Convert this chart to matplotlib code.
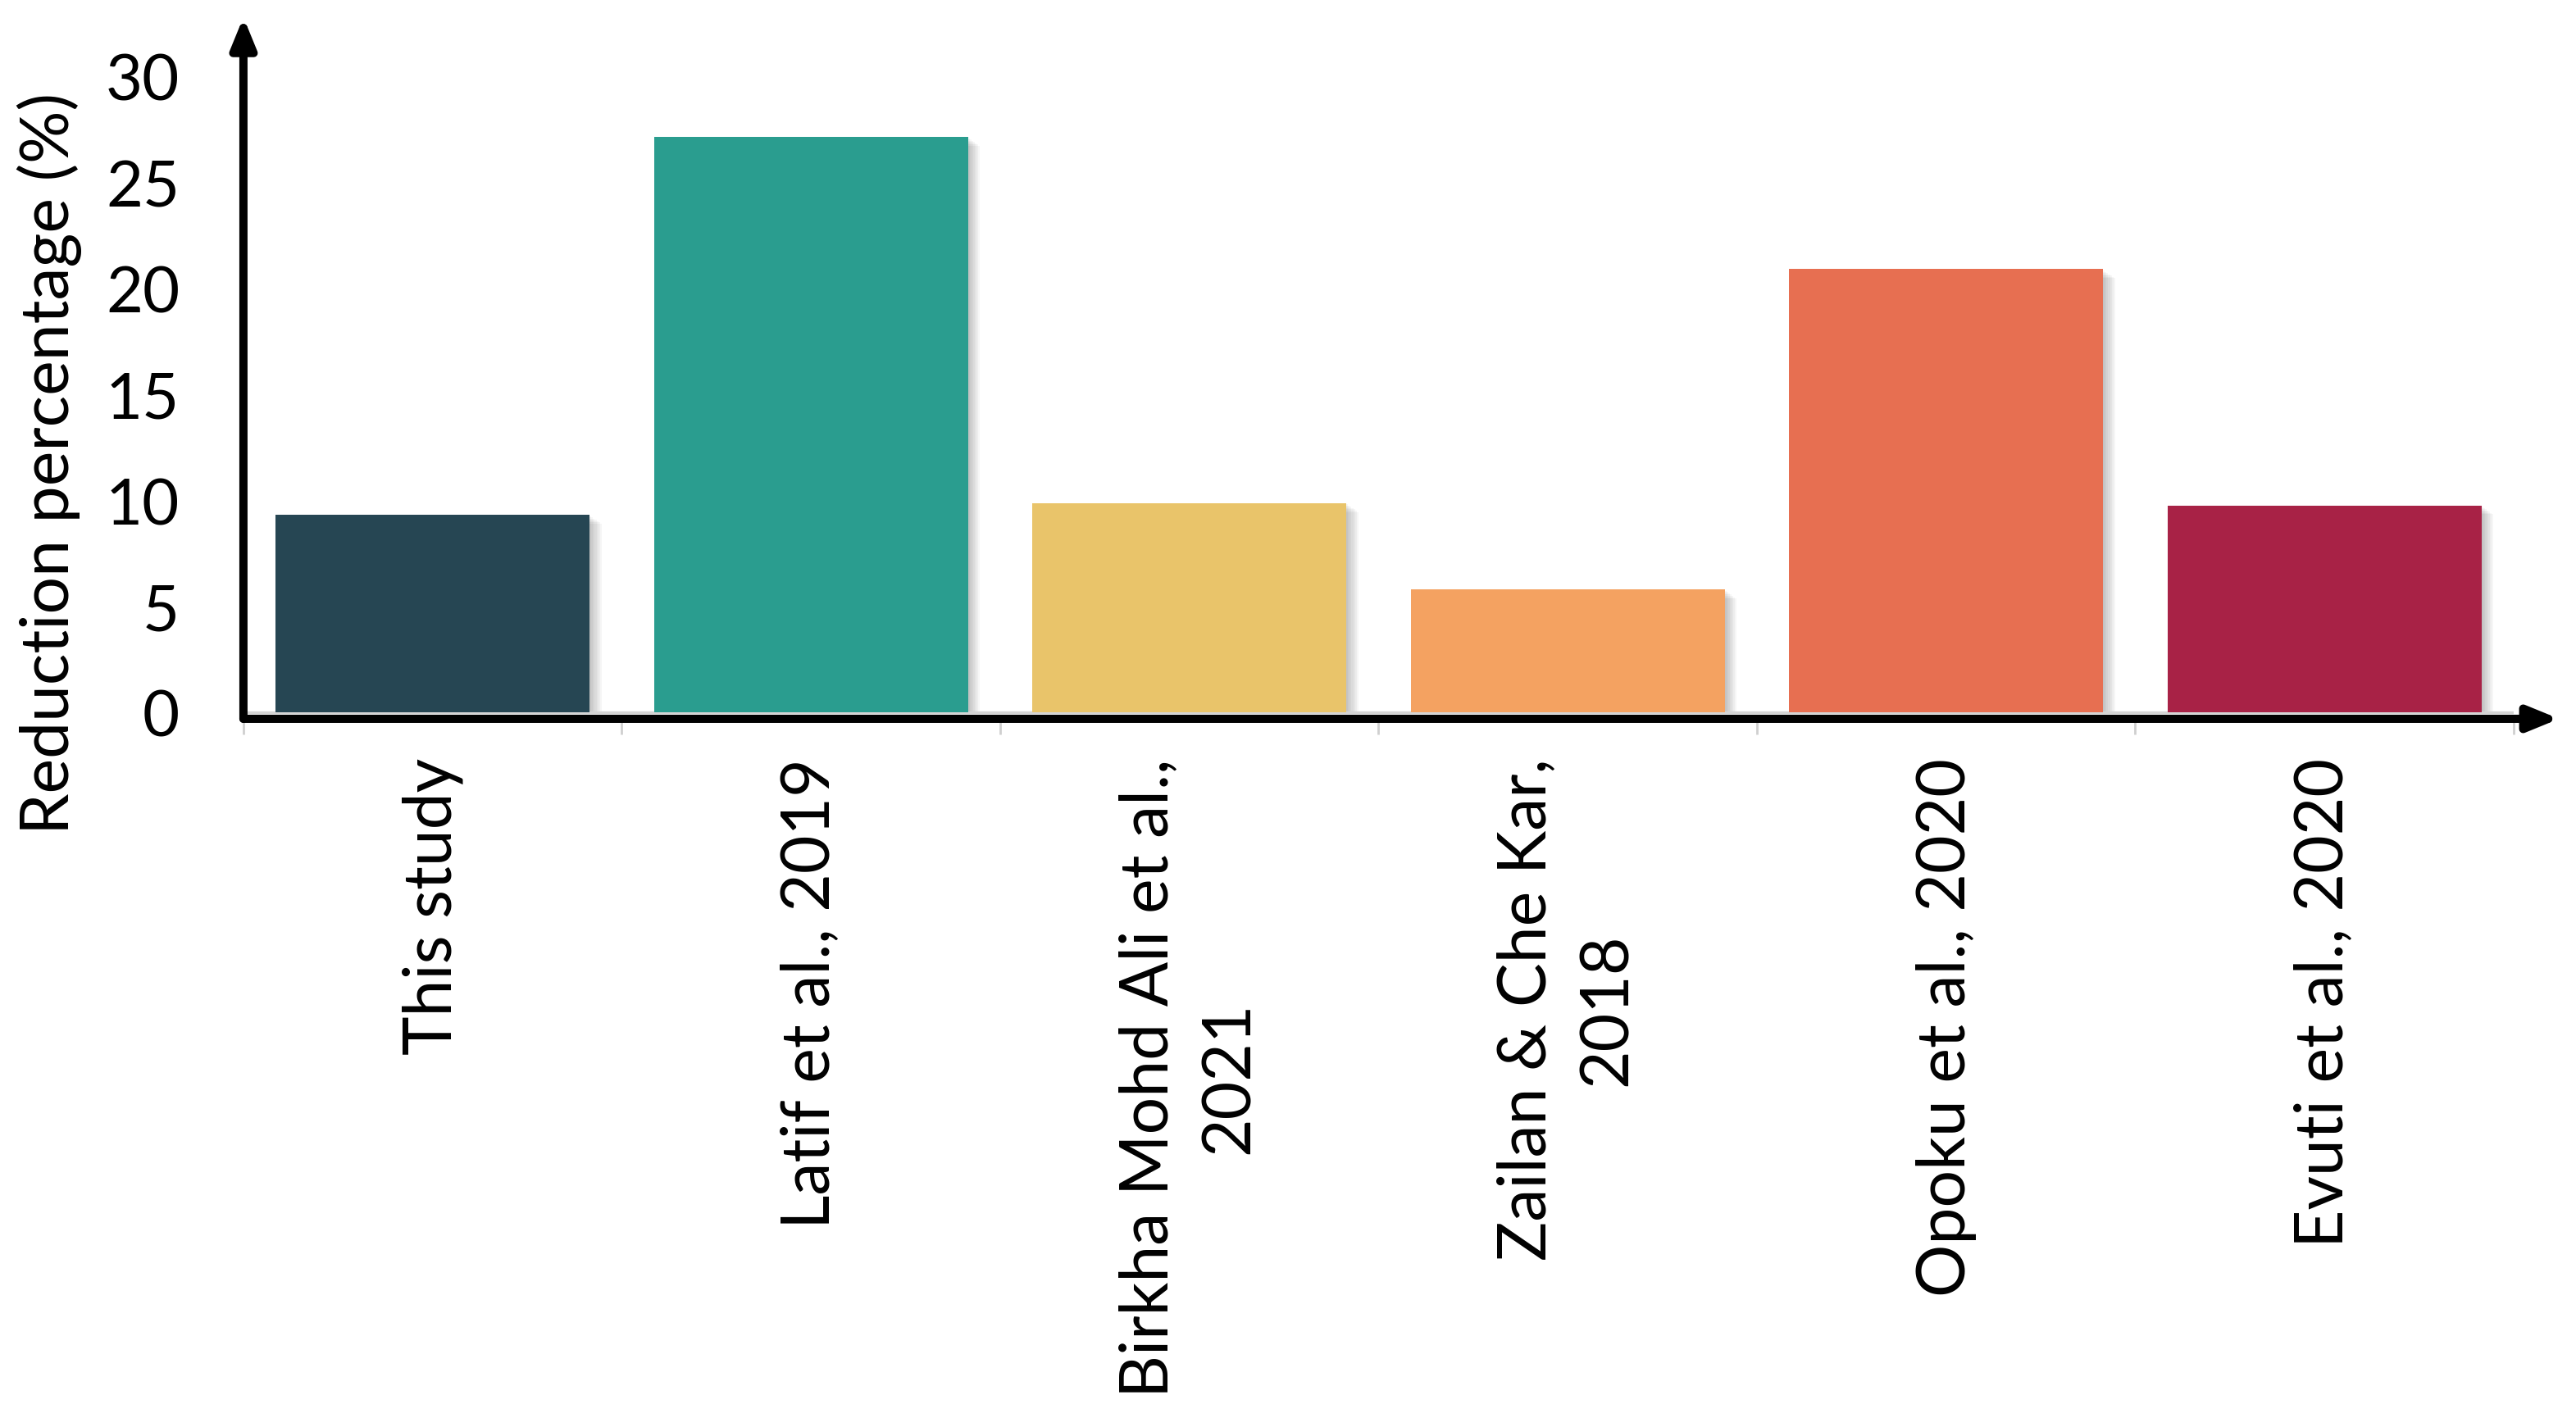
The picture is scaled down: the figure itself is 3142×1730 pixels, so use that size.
#!/usr/bin/env python3
import matplotlib
matplotlib.use('Agg')
import matplotlib.pyplot as plt
import numpy as np

plt.rcParams['font.family'] = ['Lato', 'DejaVu Sans']

# data
studies = ['This study', 'Latif et al., 2019', 'Birkha Mohd Ali et al.,\n2021',
           'Zailan & Che Kar,\n2018', 'Opoku et al., 2020', 'Evuti et al., 2020']
reduction = [9.32, 27.15, 9.88, 5.80, 20.91, 9.77]
bar_colors = ['#264653', '#2A9D8F', '#E9C46A', '#F4A261', '#E76F51', '#A82246']
y_ticks = [0, 5, 10, 15, 20, 25, 30]

fig = plt.figure(figsize=(15.71, 8.655), dpi=200)
ax = fig.add_axes([0.0945, 0.4928, 0.8813, 0.4945])

x = np.arange(len(studies))
width = 0.83

# soft drop shadow to the right of each bar
for k in range(1, 8):
    dx = 0.0045 * k
    dy = 0.06 * k
    ax.bar(x + dx, [max(v - dy, 0) for v in reduction], width=width,
           color='black', alpha=0.035, zorder=1, linewidth=0)

ax.bar(x, reduction, width=width, color=bar_colors, zorder=3, linewidth=0)
ax.axhline(0, color='#d4d4d4', lw=1.2, zorder=2)

ax.set_xlim(-0.5, len(studies) - 0.5)
ax.set_ylim(-0.3, 32.8)

for s in ax.spines.values():
    s.set_visible(False)

# axes drawn as arrows
arrow = dict(arrowstyle='-|>,head_length=1.1,head_width=0.45', lw=3.6, color='black',
             shrinkA=0, shrinkB=0)
ax.annotate('', xy=(1.02, 0), xytext=(0, 0), xycoords='axes fraction',
            textcoords='axes fraction', arrowprops=arrow, annotation_clip=False)
ax.annotate('', xy=(0, 1.0), xytext=(0, 0), xycoords='axes fraction',
            textcoords='axes fraction', arrowprops=arrow, annotation_clip=False)

ax.set_yticks(y_ticks)
ax.set_yticklabels([str(t) for t in y_ticks])
ax.tick_params(axis='y', length=0, labelsize=28, pad=28)

ax.set_xticks(x)
ax.set_xticklabels(studies, rotation=90, ha='center', va='top',
                   multialignment='center', linespacing=1.4)
ax.tick_params(axis='x', which='major', length=0, labelsize=29, pad=17)
ax.set_xticks(np.arange(-0.5, len(studies)), minor=True)
ax.tick_params(axis='x', which='minor', length=7, width=1, color='#cfcfcf')

ax.set_ylabel('Reduction percentage (%)', fontsize=29)
ax.yaxis.set_label_coords(-0.071, 0.365)

fig.savefig('out.png', dpi=200)
